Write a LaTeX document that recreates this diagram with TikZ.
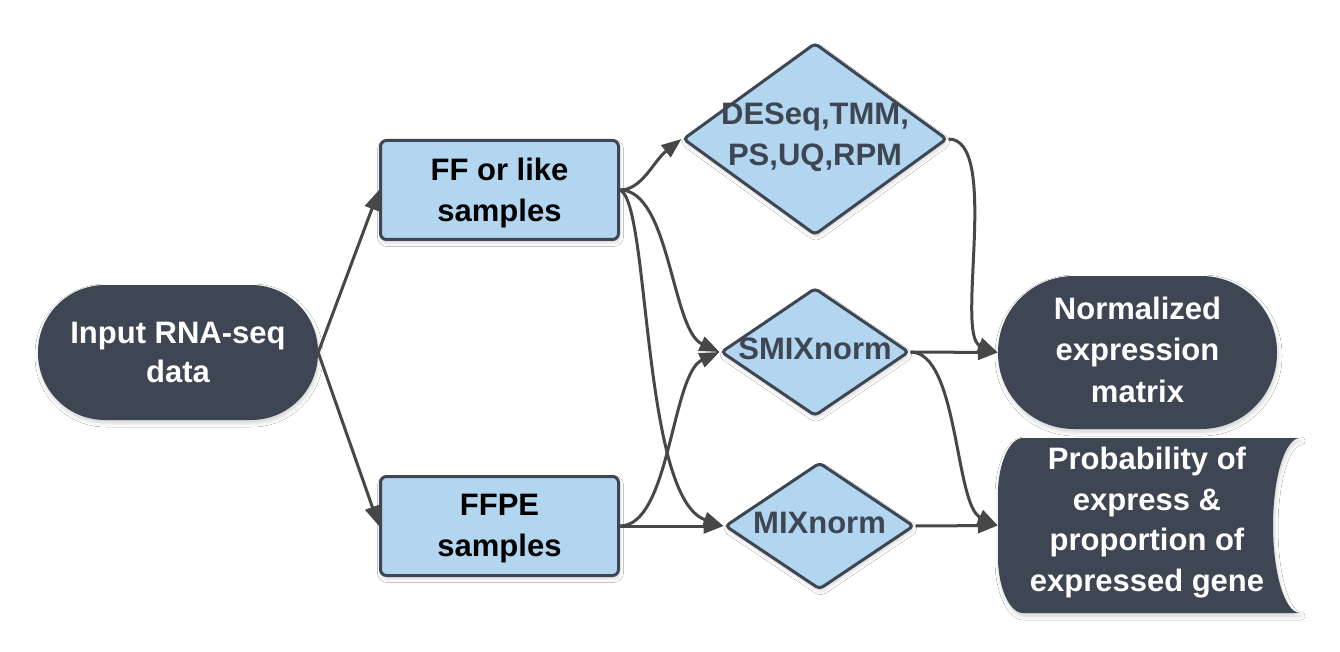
\documentclass[tikz,border=0pt]{standalone}
\usepackage{fontspec}
\setmainfont{Liberation Sans}
\usetikzlibrary{arrows.meta,shapes.geometric,shadows.blur}
\definecolor{darkslate}{HTML}{3D4652}
\definecolor{lightblue}{HTML}{B2D6EF}
\definecolor{linegray}{HTML}{474747}
\tikzset{
  shad/.style={blur shadow={shadow xshift=1pt, shadow yshift=-3pt, shadow opacity=18, shadow blur radius=4pt}},
  darkstad/.style={draw=none, fill=darkslate, text=white, align=center, inner sep=0pt, shad},
  bluebox/.style={rectangle, draw=darkslate, line width=3pt, fill=lightblue, rounded corners=6pt,
    minimum width=238pt, minimum height=99pt, align=center, text=black, inner sep=0pt,
    font=\fontsize{31}{41}\selectfont\bfseries, shad},
  bluetext/.style={align=center, text=black, inner sep=0pt, font=\fontsize{31}{41}\selectfont\bfseries},
  diabox/.style={diamond, draw=darkslate, line width=3pt, fill=lightblue, rounded corners=4pt, inner sep=0pt, shad},
  diatext/.style={align=center, text=darkslate, inner sep=0pt, font=\fontsize{31}{41}\selectfont\bfseries},
  conn/.style={draw=linegray, line width=3pt, -{Triangle[length=20pt,width=15pt]}}
}
\begin{document}
\begin{tikzpicture}[x=1pt,y=-1pt]
\useasboundingbox (0,0) rectangle (1340,652);
\fill[white] (0,0) rectangle (1340,652);

% input
\node[darkstad, minimum width=280pt, minimum height=135pt, rounded corners=67pt,
      font=\fontsize{31}{39}\selectfont\bfseries] (in) at (178,352.5) {Input RNA-seq\\data};

% sample boxes
\node[bluebox] (ff) at (499.5,190) {};
\node[bluetext] (fft) at ([yshift=-3pt]ff.center) {FF or like\\samples};
\node[bluebox] (ffpe) at (499.5,526) {};
\node[bluetext] (ffpet) at ([yshift=-3pt]ffpe.center) {FFPE\\samples};

% diamonds
\node[diabox, minimum width=264pt, minimum height=192pt] (d1) at (815,139) {};
\node[diatext] (d1t) at ([yshift=2pt]d1.center) {DESeq,TMM,\\PS,UQ,RPM};
\node[diabox, minimum width=188pt, minimum height=128pt] (d2) at (815,352) {};
\node[diatext] (d2t) at ([yshift=3pt]d2.center) {SMIXnorm};
\node[diabox, minimum width=189pt, minimum height=127pt] (d3) at (819.5,526) {};
\node[diatext] (d3t) at ([yshift=3pt]d3.center) {MIXnorm};

% outputs
\node[darkstad, minimum width=279pt, minimum height=153pt, rounded corners=76pt] (norm) at (1137.5,352.5) {};
\node[align=center, text=white, inner sep=0pt, font=\fontsize{31}{41.5}\selectfont\bfseries]
  (normt) at ([yshift=3pt]norm.center) {Normalized\\expression\\matrix};

\fill[darkslate, shad] (1300,438) -- (1023,438)
  .. controls (1009,438) and (998,465) .. (998,493) -- (998,558)
  .. controls (998,586) and (1009,613) .. (1023,613) -- (1300,613)
  .. controls (1285,613) and (1273,574) .. (1273,525.5)
  .. controls (1273,477) and (1285,438) .. (1300,438) -- cycle;
\node[minimum width=302pt, minimum height=175pt, inner sep=0pt] (prob) at (1149,525.5) {};
\node[align=center, text=white, inner sep=0pt, font=\fontsize{31}{40.5}\selectfont\bfseries]
  (probt) at ([xshift=-2pt,yshift=3pt]prob.center) {Probability of\\express \&\\proportion of\\expressed gene};

% connectors
\draw[conn] (in.east) -- (ff.west);
\draw[conn] (in.east) -- (ffpe.west);

\draw[conn] (ff.east) .. controls +(22,0) and +(-28,22) .. (d1.west);
\draw[conn] (ff.east) .. controls +(50,0) and +(-48,-22) .. (d2.west);
\draw[conn] (ff.east) .. controls +(30,12) and +(-82,-28) .. (d3.west);

\draw[conn] (ffpe.east) .. controls +(50,0) and +(-48,22) .. (d2.west);
\draw[conn] (ffpe.east) -- (d3.west);

\draw[conn] (d1.east) .. controls +(52,0) and +(-43,-17) .. (norm.west);
\draw[conn] (d2.east) -- (norm.west);
\draw[conn] (d2.east) .. controls +(48,0) and +(-43,-20) .. (prob.west);
\draw[conn] (d3.east) -- (prob.west);
\end{tikzpicture}
\end{document}
